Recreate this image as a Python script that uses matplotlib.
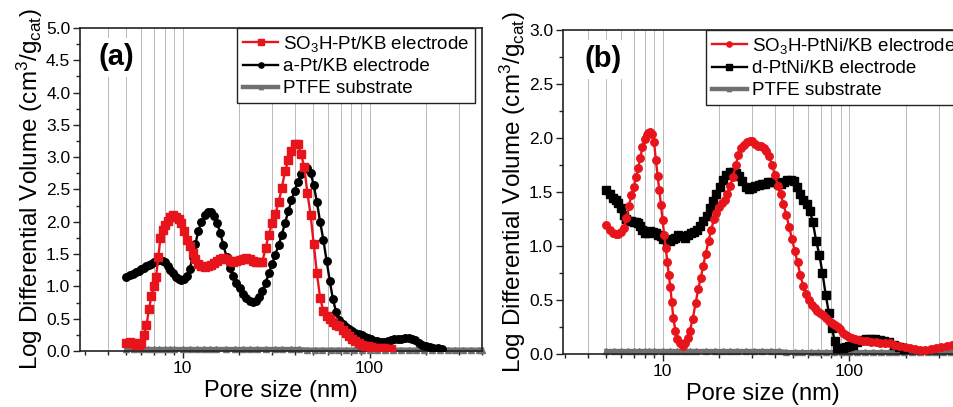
import matplotlib
matplotlib.use("Agg")
import matplotlib.pyplot as plt
from matplotlib.ticker import LogLocator, FixedLocator, FixedFormatter, MultipleLocator, FormatStrFormatter, NullFormatter

plt.rcParams['font.family'] = ['Liberation Sans', 'DejaVu Sans']
plt.rcParams['mathtext.fontset'] = 'custom'
plt.rcParams['mathtext.rm'] = 'Liberation Sans'
plt.rcParams['mathtext.it'] = 'Liberation Sans:italic'
plt.rcParams['mathtext.bf'] = 'Liberation Sans:bold'

# ---------------- panel (a): Pt/KB electrodes ----------------
a_so3h_x = [5.0, 5.2, 5.4, 5.6, 5.8, 6.0, 6.2, 6.4, 6.6, 6.8, 7.0, 7.2, 7.4, 7.6, 7.8, 8.0,
            8.3, 8.6, 8.9, 9.2, 9.5, 9.8, 10.1, 10.5, 10.9, 11.3, 11.7, 12.1, 12.6, 13.1,
            13.6, 14.1, 14.7, 15.3, 15.9, 16.5, 17.2, 17.9, 18.6, 19.4, 20.2, 21.0, 21.9,
            22.8, 23.7, 24.7, 25.7, 26.7, 27.8, 28.9, 30.1, 31.3, 32.6, 33.9, 35.3, 36.7,
            38.2, 39.7, 41.3, 43.0, 44.7, 46.5, 48.4, 50.3, 52.3, 54.4, 56.6, 58.9, 61.3,
            63.7, 66.3, 69.0, 71.7, 74.6, 77.6, 80.7, 84.0, 87.3, 90.8, 94.5, 98.3, 102,
            106, 110, 115, 120, 125, 130]
a_so3h_y = [0.12, 0.14, 0.12, 0.10, 0.09, 0.12, 0.25, 0.40, 0.65, 0.85, 1.00, 1.15, 1.45,
            1.75, 1.88, 1.95, 2.02, 2.08, 2.10, 2.08, 2.04, 1.98, 1.85, 1.72, 1.62, 1.52,
            1.42, 1.35, 1.31, 1.30, 1.31, 1.33, 1.36, 1.40, 1.43, 1.44, 1.42, 1.39, 1.38,
            1.39, 1.41, 1.43, 1.44, 1.43, 1.40, 1.38, 1.37, 1.38, 1.60, 1.80, 1.98, 2.12,
            2.30, 2.52, 2.78, 2.95, 3.10, 3.20, 3.20, 3.05, 2.85, 2.45, 2.10, 1.65, 1.20,
            0.82, 0.62, 0.54, 0.49, 0.45, 0.41, 0.38, 0.33, 0.28, 0.23, 0.19, 0.15, 0.12,
            0.10, 0.08, 0.07, 0.06, 0.05, 0.05, 0.04, 0.04, 0.03, 0.03]

a_apt_x = [5.0, 5.2, 5.4, 5.6, 5.8, 6.0, 6.2, 6.4, 6.6, 6.8, 7.0, 7.2, 7.4, 7.6, 7.8, 8.0,
           8.3, 8.6, 8.9, 9.2, 9.5, 9.8, 10.1, 10.5, 10.9, 11.3, 11.7, 12.1, 12.6, 13.1,
           13.6, 14.1, 14.7, 15.3, 15.9, 16.5, 17.2, 17.9, 18.6, 19.4, 20.2, 21.0, 21.9,
           22.8, 23.7, 24.7, 25.7, 26.7, 27.8, 28.9, 30.1, 31.3, 32.6, 33.9, 35.3, 36.7,
           38.2, 39.7, 41.3, 43.0, 44.7, 46.5, 48.4, 50.3, 52.3, 54.4, 56.6, 58.9, 61.3,
           63.7, 66.3, 69.0, 71.7, 74.6, 77.6, 80.7, 84.0, 87.3, 90.8, 94.5, 98.3, 102,
           106, 110, 115, 120, 125, 130, 136, 142, 148, 155, 162, 169, 176, 183, 191, 200,
           210, 220, 232, 245]
a_apt_y = [1.15, 1.17, 1.19, 1.22, 1.24, 1.27, 1.29, 1.31, 1.33, 1.35, 1.37, 1.39, 1.41,
           1.41, 1.39, 1.37, 1.32, 1.26, 1.20, 1.15, 1.12, 1.10, 1.11, 1.16, 1.27, 1.45,
           1.66, 1.85, 2.00, 2.10, 2.15, 2.15, 2.09, 1.98, 1.82, 1.64, 1.45, 1.29, 1.16,
           1.05, 0.97, 0.89, 0.82, 0.78, 0.76, 0.78, 0.84, 0.93, 1.06, 1.20, 1.35, 1.49,
           1.64, 1.80, 1.98, 2.16, 2.33, 2.48, 2.62, 2.74, 2.82, 2.84, 2.75, 2.57, 2.30,
           2.00, 1.72, 1.40, 1.08, 0.80, 0.60, 0.48, 0.42, 0.37, 0.34, 0.31, 0.28, 0.26,
           0.24, 0.22, 0.20, 0.18, 0.16, 0.15, 0.14, 0.14, 0.15, 0.17, 0.18, 0.19, 0.19,
           0.20, 0.20, 0.19, 0.17, 0.13, 0.09, 0.07, 0.06, 0.05, 0.04, 0.03]

# ---------------- panel (b): PtNi/KB electrodes ----------------
b_so3h_x = [5.0, 5.2, 5.4, 5.6, 5.8, 6.0, 6.2, 6.4, 6.6, 6.8, 7.0, 7.2, 7.4, 7.6, 7.8, 8.0,
            8.2, 8.4, 8.6, 8.8, 9.0, 9.2, 9.4, 9.6, 9.8, 10.0, 10.2, 10.4, 10.6, 10.8, 11.0,
            11.2, 11.4, 11.7, 12.0, 12.4, 12.8, 13.2, 13.6, 14.0, 14.5, 15.0, 15.5, 16.0,
            16.5, 17.0, 17.6, 18.2, 18.8, 19.4, 20.1, 20.8, 21.5, 22.2, 23.0, 23.8, 24.6,
            25.4, 26.3, 27.2, 28.2, 29.2, 30.2, 31.3, 32.4, 33.5, 34.7, 35.9, 37.2, 38.5,
            39.9, 41.3, 42.8, 44.3, 45.9, 47.5, 49.2, 50.9, 52.7, 54.6, 56.6, 58.6, 60.7,
            62.9, 65.1, 67.4, 69.8, 72.3, 74.9, 77.6, 80.4, 83.3, 86.3, 89.4, 92.6, 95.9,
            99.3, 103, 107, 112, 118, 124, 131, 138, 146, 155, 164, 174, 185, 197, 210, 224,
            239, 255, 272, 290, 310, 331, 354, 378, 400]
b_so3h_y = [1.20, 1.15, 1.12, 1.11, 1.11, 1.13, 1.17, 1.26, 1.37, 1.47, 1.55, 1.64, 1.72,
            1.82, 1.92, 1.99, 2.03, 2.05, 2.06, 2.04, 1.96, 1.80, 1.65, 1.52, 1.38, 1.24,
            1.10, 0.98, 0.85, 0.73, 0.62, 0.48, 0.34, 0.22, 0.14, 0.10, 0.08, 0.10, 0.15,
            0.22, 0.33, 0.47, 0.60, 0.71, 0.82, 0.93, 1.05, 1.15, 1.25, 1.31, 1.36, 1.40,
            1.43, 1.48, 1.56, 1.64, 1.75, 1.84, 1.91, 1.94, 1.96, 1.97, 1.97, 1.95, 1.93,
            1.93, 1.91, 1.88, 1.83, 1.75, 1.66, 1.56, 1.48, 1.39, 1.29, 1.18, 1.07, 0.96,
            0.85, 0.73, 0.63, 0.56, 0.50, 0.46, 0.43, 0.40, 0.38, 0.36, 0.34, 0.31, 0.29,
            0.27, 0.25, 0.23, 0.20, 0.18, 0.16, 0.15, 0.14, 0.13, 0.12, 0.12, 0.11, 0.11,
            0.10, 0.10, 0.10, 0.09, 0.08, 0.07, 0.06, 0.05, 0.04, 0.04, 0.05, 0.06, 0.07,
            0.08, 0.09, 0.09, 0.09]

b_dptni_x = [5.0, 5.2, 5.4, 5.6, 5.8, 6.0, 6.2, 6.4, 6.6, 6.8, 7.0, 7.2, 7.4, 7.6, 7.8, 8.0,
             8.3, 8.6, 8.9, 9.2, 9.5, 9.8, 10.1, 10.5, 10.9, 11.3, 11.7, 12.1, 12.6, 13.1,
             13.6, 14.1, 14.7, 15.3, 15.9, 16.5, 17.2, 17.9, 18.6, 19.4, 20.2, 21.0, 21.9,
             22.8, 23.7, 24.7, 25.7, 26.7, 27.8, 28.9, 30.1, 31.3, 32.6, 33.9, 35.3, 36.7,
             38.2, 39.7, 41.3, 43.0, 44.7, 46.5, 48.4, 50.3, 52.3, 54.4, 56.6, 58.9, 61.3,
             63.7, 66.3, 69.0, 71.7, 74.6, 77.6, 80.7, 83.3, 85.5, 88, 92, 96, 100, 105, 110,
             116, 122, 129, 137, 145, 153, 162, 172, 183, 195]
b_dptni_y = [1.52, 1.48, 1.45, 1.43, 1.40, 1.35, 1.29, 1.25, 1.23, 1.23, 1.22, 1.22, 1.21,
             1.19, 1.15, 1.12, 1.12, 1.14, 1.13, 1.12, 1.10, 1.09, 1.07, 1.05, 1.05, 1.07,
             1.08, 1.10, 1.09, 1.08, 1.10, 1.12, 1.13, 1.15, 1.19, 1.23, 1.28, 1.35, 1.42,
             1.48, 1.55, 1.61, 1.66, 1.69, 1.69, 1.68, 1.65, 1.60, 1.55, 1.53, 1.54, 1.56,
             1.57, 1.58, 1.58, 1.59, 1.59, 1.59, 1.58, 1.58, 1.59, 1.61, 1.61, 1.60, 1.55,
             1.48, 1.43, 1.39, 1.33, 1.22, 1.05, 0.92, 0.75, 0.55, 0.38, 0.24, 0.12, 0.06,
             0.06, 0.06, 0.07, 0.08, 0.09, 0.11, 0.13, 0.14, 0.14, 0.14, 0.13, 0.12, 0.11,
             0.09, 0.07, 0.05]

# bare PTFE substrate (same measurement in both panels)
ptfe_x = [5.0, 5.5, 6.0, 6.5, 7.0, 7.5, 8.0, 8.5, 9.0, 10, 11, 12, 13, 14, 15, 17, 19, 21,
          23, 25, 28, 31, 34, 38, 42, 46, 51, 56, 62, 68, 75, 83, 91, 100, 110, 121, 133,
          147, 162, 178, 196, 216, 238, 262, 288, 317, 349, 384, 400]
ptfe_y = [0.03, 0.03, 0.03, 0.03, 0.03, 0.03, 0.03, 0.03, 0.03, 0.03, 0.03, 0.03, 0.03,
          0.03, 0.03, 0.03, 0.03, 0.03, 0.03, 0.03, 0.03, 0.03, 0.03, 0.03, 0.03, 0.02,
          0.02, 0.02, 0.02, 0.02, 0.02, 0.02, 0.02, 0.02, 0.02, 0.02, 0.02, 0.02, 0.02,
          0.02, 0.02, 0.02, 0.02, 0.02, 0.02, 0.02, 0.02, 0.02, 0.02]

RED = '#e8141c'
BLACK = '#000000'
GRAY = '#707070'

fig = plt.figure(figsize=(9.54, 4.07), dpi=100)
ax_a = fig.add_axes([80 / 954, 1 - 351 / 407, 402 / 954, 323 / 407])
ax_b = fig.add_axes([563 / 954, 1 - 354.3 / 407, 399 / 954, 324.3 / 407])

ylabel = r'Log Differential Volume (cm$^{3}$/g$_{\mathrm{cat}}$)'


def style_axes(ax, xlim, ylim, ystep):
    ax.set_xscale('log')
    ax.set_xlim(*xlim)
    ax.set_ylim(*ylim)
    ax.xaxis.set_major_locator(FixedLocator([10, 100]))
    ax.xaxis.set_major_formatter(FixedFormatter(['10', '100']))
    ax.xaxis.set_minor_locator(LogLocator(base=10, subs=range(2, 10)))
    ax.xaxis.set_minor_formatter(NullFormatter())
    ax.yaxis.set_major_locator(MultipleLocator(ystep))
    ax.yaxis.set_minor_locator(MultipleLocator(ystep / 2))
    ax.yaxis.set_major_formatter(FormatStrFormatter('%.1f'))
    ax.tick_params(which='both', direction='out', top=False, right=False,
                   labelsize=12.5, width=1.0, color='#222222', pad=2)
    ax.tick_params(which='major', length=5)
    ax.tick_params(which='minor', length=3)
    for sp in ax.spines.values():
        sp.set_linewidth(1.2)
        sp.set_color('#222222')
    # vertical guide lines at every decade subdivision
    grid_x = [4, 5, 6, 7, 8, 9, 10, 20, 30, 40, 50, 60, 70, 80, 90, 100, 200, 300]
    for gx in grid_x:
        ax.axvline(gx, color='#b9b9b9', lw=0.7, zorder=0)
    ax.set_xlabel('Pore size (nm)', fontsize=17, labelpad=3)
    ax.set_ylabel(ylabel, fontsize=17.5, labelpad=1)


style_axes(ax_a, (2.82, 400), (0, 5.0), 0.5)
style_axes(ax_b, (2.93, 400), (0, 3.0), 0.5)

mk = dict(markersize=5.4, linewidth=1.7)

for ax in (ax_a, ax_b):
    ax.plot(ptfe_x, ptfe_y, '-^', color=GRAY, markersize=4.5, linewidth=3.2,
            label='PTFE substrate', zorder=2.5, clip_on=False)

ax_a.plot(a_apt_x, a_apt_y, '-o', color=BLACK, label='a-Pt/KB electrode',
          zorder=3, **mk)
ax_a.plot(a_so3h_x, a_so3h_y, '-s', color=RED, label='SO$_3$H-Pt/KB electrode',
          zorder=4, **mk)

ax_b.plot(b_dptni_x, b_dptni_y, '-s', color=BLACK, label='d-PtNi/KB electrode',
          zorder=3, **mk)
ax_b.plot(b_so3h_x, b_so3h_y, '-o', color=RED, label='SO$_3$H-PtNi/KB electrode',
          zorder=4, **mk)

for ax, anchor, loc in ((ax_a, (395 / 402, 1.0), 'upper right'),
                        (ax_b, (143 / 399, 1.0), 'upper left')):
    h, l = ax.get_legend_handles_labels()
    order = [2, 1, 0]
    leg = ax.legend([h[i] for i in order], [l[i] for i in order], loc=loc,
                    bbox_to_anchor=anchor, borderaxespad=0, fontsize=13.5,
                    frameon=True, fancybox=False, framealpha=1, edgecolor='#222222',
                    handlelength=1.9, handletextpad=0.25, labelspacing=0.25,
                    borderpad=0.3, markerscale=0.7)
    leg.get_frame().set_linewidth(1.0)
    leg.set_zorder(10)

ax_a.text(0.045, 0.91, '(a)', transform=ax_a.transAxes, fontsize=21, fontweight='bold',
          va='center', ha='left', zorder=9,
          bbox=dict(facecolor='white', edgecolor='none', pad=4))
ax_b.text(0.055, 0.91, '(b)', transform=ax_b.transAxes, fontsize=21, fontweight='bold',
          va='center', ha='left', zorder=9,
          bbox=dict(facecolor='white', edgecolor='none', pad=4))

fig.savefig('out.png', dpi=100)
